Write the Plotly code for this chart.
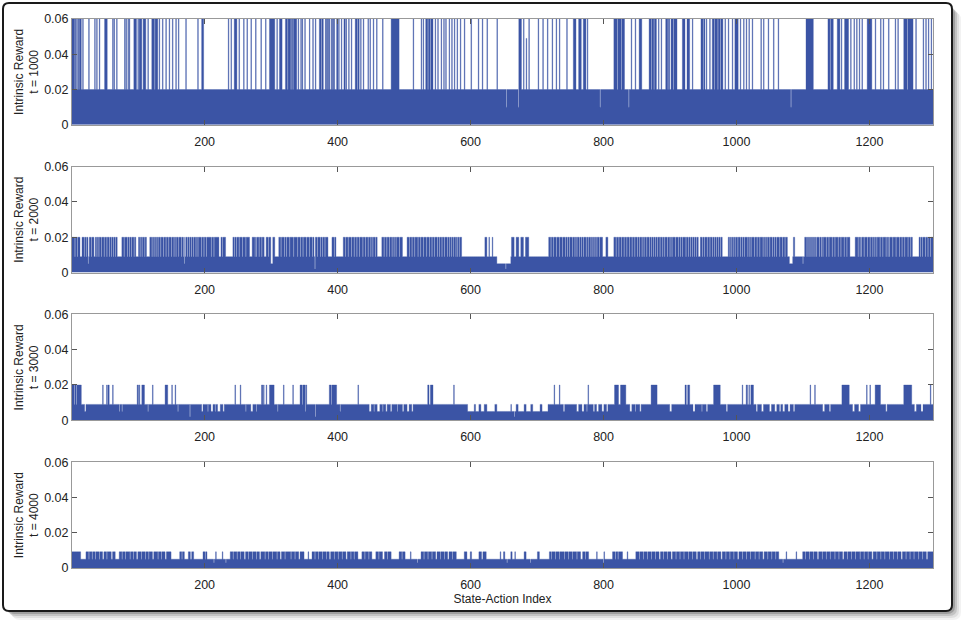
import plotly.graph_objects as go
from plotly.subplots import make_subplots

# ---- data (index ranges are inclusive) ----
n_states = 1295
state_index = list(range(1, n_states + 1))

panel_titles = ["t = 1000", "t = 2000", "t = 3000", "t = 4000"]
x_tickvals = [200, 400, 600, 800, 1000, 1200]
y_tickvals = [0, 0.02, 0.04, 0.06]
y_ticktext = ["0", "0.02", "0.04", "0.06"]

# t = 1000 : base level 0.02, spikes at 0.06
p1_base = 0.02
p1_spike_value = 0.06
p1_spikes = [[1, 4], [6, 6], [8, 8], [10, 10], [12, 14], [17, 17], [26, 26], [35, 35], [38, 38], [42, 42],
             [50, 53], [62, 62], [64, 64], [68, 68], [80, 80], [82, 82], [85, 85], [87, 87], [94, 97],
             [100, 100], [102, 105], [108, 111], [115, 115], [121, 124], [126, 129], [132, 132], [137, 137],
             [142, 142], [147, 147], [152, 152], [157, 157], [161, 161], [172, 172], [190, 190], [196, 198],
             [236, 236], [240, 240], [245, 248], [252, 252], [259, 259], [264, 264], [270, 270], [277, 277],
             [285, 285], [292, 292], [298, 305], [309, 309], [313, 316], [322, 324], [326, 329], [331, 332],
             [334, 338], [341, 341], [345, 345], [347, 347], [351, 351], [358, 358], [363, 363], [367, 367],
             [373, 375], [377, 378], [382, 383], [385, 386], [388, 388], [391, 392], [394, 395], [399, 400],
             [402, 402], [406, 406], [410, 411], [413, 413], [417, 417], [421, 421], [427, 429], [431, 432],
             [435, 435], [439, 439], [446, 446], [449, 449], [454, 454], [459, 459], [468, 468], [481, 492],
             [514, 514], [526, 526], [529, 529], [533, 535], [537, 539], [541, 543], [547, 547], [551, 551],
             [556, 556], [560, 560], [563, 563], [568, 568], [572, 572], [576, 576], [580, 580], [585, 585],
             [591, 591], [601, 601], [612, 612], [618, 618], [625, 625], [640, 640], [673, 676], [680, 680],
             [688, 688], [702, 702], [709, 709], [716, 716], [723, 723], [729, 729], [734, 734], [745, 745],
             [755, 758], [763, 766], [770, 773], [776, 776], [816, 820], [822, 826], [828, 831], [842, 842],
             [848, 848], [854, 857], [869, 871], [873, 875], [877, 879], [883, 883], [887, 887], [894, 896],
             [898, 899], [902, 904], [906, 910], [919, 922], [926, 929], [934, 934], [947, 949], [951, 952],
             [955, 955], [960, 960], [964, 966], [968, 971], [973, 975], [977, 979], [983, 983], [988, 988],
             [994, 994], [998, 1002], [1006, 1006], [1011, 1011], [1015, 1015], [1019, 1019], [1024, 1024],
             [1037, 1037], [1041, 1041], [1048, 1048], [1056, 1056], [1063, 1063], [1105, 1115],
             [1138, 1140], [1142, 1145], [1152, 1155], [1158, 1158], [1163, 1168], [1172, 1172],
             [1177, 1177], [1181, 1181], [1185, 1185], [1189, 1189], [1197, 1203], [1209, 1209],
             [1217, 1217], [1221, 1221], [1229, 1229], [1239, 1239], [1243, 1243], [1252, 1256],
             [1258, 1265], [1270, 1270], [1281, 1281], [1285, 1285], [1289, 1289], [1293, 1293]]
p1_partial_value = 0.049
p1_partial = [[684, 684]]
p1_dip_value = 0.01
p1_dips = [[654, 654], [672, 672], [795, 795], [838, 838], [1082, 1082]]

# t = 2000 : base level 0.02, gaps down to 0.009
p2_base = 0.02
p2_gap_value = 0.009
p2_gaps = [[5, 5], [9, 9], [13, 15], [19, 19], [22, 22], [26, 26], [30, 30], [34, 35], [38, 38], [41, 41],
           [45, 45], [49, 49], [53, 53], [57, 57], [60, 60], [63, 63], [66, 66], [69, 75], [79, 79], [84, 84],
           [87, 87], [90, 90], [94, 94], [97, 100], [103, 103], [106, 106], [110, 110], [113, 117], [121, 121],
           [124, 124], [127, 127], [130, 130], [134, 134], [138, 138], [142, 142], [146, 146], [150, 150],
           [154, 154], [157, 157], [161, 161], [165, 165], [168, 168], [171, 171], [174, 174], [177, 177],
           [180, 180], [183, 183], [187, 187], [190, 190],
           [195, 195], [199, 199], [203, 203], [210, 210], [214, 214], [222, 224], [227, 227], [232, 242],
           [245, 245], [248, 248], [252, 252], [257, 257], [262, 262], [268, 271], [276, 276], [278, 278],
           [282, 282], [286, 286], [290, 292], [296, 296], [300, 300], [306, 311], [315, 315], [320, 320],
           [323, 323], [328, 328], [334, 334], [340, 340], [344, 344], [348, 348], [353, 353], [358, 358],
           [362, 362], [365, 365], [370, 370], [374, 374], [377, 377], [381, 381], [386, 391], [395, 395],
           [398, 408], [412, 412], [416, 416], [421, 421], [425, 425], [429, 429],
           [433, 433], [438, 438], [442, 442], [446, 446], [450, 450], [453, 453], [457, 457], [460, 466],
           [470, 470], [474, 474], [478, 478], [482, 482], [485, 485], [488, 488], [493, 493], [498, 504],
           [508, 508], [512, 512], [516, 516], [521, 521], [525, 525], [529, 529], [534, 534], [538, 538],
           [542, 542], [546, 546], [550, 550], [553, 553], [557, 557], [561, 561], [565, 565], [568, 568],
           [571, 571], [574, 574], [578, 578], [580, 580], [583, 583],
           [587, 621], [625, 627], [629, 632], [634, 641], [643, 661], [666, 668], [673, 675], [680, 682],
           [688, 717],
           [721, 721], [725, 725], [729, 729], [734, 734], [738, 738], [743, 743], [746, 746], [749, 749],
           [753, 753], [757, 757], [760, 760], [764, 764], [767, 767], [770, 770], [774, 774], [777, 777],
           [781, 781], [784, 784], [787, 787], [790, 790], [794, 794], [799, 803], [807, 815], [819, 819],
           [823, 823], [827, 827], [831, 831], [835, 835], [839, 839], [843, 843], [847, 847], [851, 851],
           [854, 854], [858, 858], [861, 861], [865, 865], [869, 869], [872, 872], [875, 875], [878, 878],
           [881, 881], [885, 885], [889, 889], [892, 892], [896, 896], [900, 900], [903, 903], [908, 908],
           [913, 913], [916, 916], [919, 919], [924, 924], [928, 928], [931, 931], [934, 934], [937, 937],
           [940, 940], [943, 945], [949, 949], [952, 952], [956, 956], [960, 960], [964, 964], [967, 967],
           [970, 970], [973, 973], [976, 976], [979, 987], [990, 990], [992, 992], [995, 995], [998, 998],
           [1002, 1002], [1006, 1006], [1009, 1009], [1012, 1012], [1017, 1017], [1020, 1020], [1022, 1022],
           [1027, 1027], [1031, 1031], [1035, 1035], [1040, 1040], [1043, 1043], [1046, 1046], [1050, 1050],
           [1054, 1054], [1057, 1057], [1060, 1060], [1065, 1065], [1069, 1069], [1073, 1073], [1077, 1085],
           [1088, 1102], [1106, 1106], [1109, 1109], [1112, 1112], [1115, 1115], [1118, 1118], [1120, 1120],
           [1125, 1125], [1128, 1128], [1130, 1130], [1135, 1135], [1139, 1139], [1144, 1144], [1148, 1148],
           [1153, 1153], [1157, 1157], [1162, 1162], [1166, 1166], [1171, 1178], [1183, 1183], [1186, 1186],
           [1188, 1188], [1192, 1192], [1197, 1197], [1201, 1201], [1205, 1205], [1208, 1208], [1211, 1211],
           [1216, 1216], [1220, 1220], [1225, 1225], [1228, 1228], [1230, 1230], [1235, 1235], [1240, 1240],
           [1245, 1245], [1249, 1249], [1253, 1253], [1258, 1258], [1262, 1262], [1265, 1274], [1277, 1277],
           [1280, 1280], [1284, 1284], [1288, 1288], [1292, 1292]]
p2_low_value = 0.005
p2_lows = [[25, 25], [170, 170], [300, 302], [640, 652], [654, 660], [1080, 1084], [1100, 1100]]
p2_min_value = 0.002
p2_mins = [[366, 366], [653, 653]]

# t = 3000 : base level 0.009, spikes at 0.02, dips to 0.005
p3_base = 0.009
p3_spike_value = 0.02
p3_spikes = [[1, 3], [5, 6], [8, 14], [47, 47], [53, 53], [55, 56], [62, 62], [99, 100], [102, 102],
             [106, 109], [122, 122], [141, 144], [151, 151], [156, 156], [246, 246], [254, 254], [286, 287],
             [289, 289], [293, 293], [298, 304], [319, 319], [333, 333], [344, 346], [348, 353], [388, 390],
             [392, 398], [431, 431], [536, 537], [540, 543], [575, 575], [726, 726], [734, 734], [777, 777],
             [817, 822], [826, 833], [872, 880], [923, 924], [927, 929], [966, 975], [1009, 1009],
             [1015, 1016], [1019, 1019], [1022, 1025], [1111, 1111], [1118, 1118], [1159, 1169],
             [1196, 1196], [1201, 1201], [1209, 1216], [1252, 1263], [1292, 1292]]
p3_low_value = 0.005
p3_lows = [[20, 21], [72, 72], [76, 76], [115, 115], [160, 160], [196, 197], [205, 205], [210, 212],
           [216, 216], [220, 223], [228, 229], [262, 262], [270, 272], [278, 278], [310, 310], [352, 352],
           [404, 404], [448, 450], [455, 455], [460, 463], [468, 468], [473, 474], [480, 481], [490, 490],
           [498, 499], [505, 507], [512, 513], [596, 605], [608, 612], [616, 620], [625, 636], [640, 660],
           [662, 668], [672, 680], [684, 690], [694, 704], [708, 716], [740, 741], [760, 762], [768, 770],
           [775, 775], [785, 786], [790, 792], [798, 800], [805, 806], [840, 842], [848, 848], [855, 856],
           [900, 902], [935, 937], [948, 948], [955, 956], [985, 986], [1030, 1031], [1038, 1040],
           [1050, 1052], [1058, 1060], [1065, 1066], [1070, 1072], [1078, 1080], [1086, 1087], [1130, 1132],
           [1140, 1141], [1175, 1177], [1184, 1186], [1225, 1226], [1268, 1270], [1278, 1280]]
p3_min_value = 0.002
p3_mins = [[178, 178], [367, 367], [666, 666]]

# t = 4000 : base level 0.009, many dips to 0.005
p4_base = 0.0092
p4_low_value = 0.005
p4_lows = [[14, 21], [26, 26], [31, 31], [36, 36], [42, 42], [47, 48], [53, 53], [60, 61], [66, 71], [76, 76],
           [81, 81], [88, 88], [93, 93], [98, 99], [105, 105], [111, 111], [116, 116], [122, 123], [130, 130],
           [135, 135], [141, 142], [150, 162], [166, 166], [170, 175], [179, 180], [184, 197], [201, 201],
           [204, 238], [243, 243], [249, 249], [254, 254], [260, 261], [266, 266], [272, 272], [278, 278],
           [283, 284], [291, 291], [296, 296], [302, 302], [309, 309], [314, 315], [321, 321], [330, 330],
           [336, 336], [342, 343], [350, 361], [366, 366], [371, 371], [377, 377], [383, 383], [388, 389],
           [395, 395], [401, 401], [407, 407], [413, 414], [420, 420], [425, 425], [431, 436], [441, 441],
           [447, 447], [452, 457], [462, 462], [468, 470], [475, 475], [481, 492], [497, 497], [502, 525],
           [530, 530], [536, 536], [542, 542], [548, 549], [555, 555], [561, 561], [566, 567], [573, 573],
           [579, 590], [595, 612], [617, 618], [624, 644], [646, 660], [663, 680], [684, 700], [704, 718],
           [722, 722], [728, 728], [734, 734], [741, 741], [747, 747], [753, 753], [760, 760], [766, 768],
           [773, 773], [778, 813], [818, 818], [822, 822], [829, 848], [854, 854], [860, 860], [866, 866],
           [872, 872], [878, 878], [884, 885], [890, 890], [896, 896], [902, 903], [909, 909], [915, 915],
           [921, 921], [928, 928], [934, 934], [940, 941], [946, 946], [952, 952], [959, 959], [965, 965],
           [971, 971], [977, 978], [984, 984], [990, 990], [996, 996], [1002, 1003], [1009, 1009],
           [1015, 1015], [1021, 1021], [1028, 1028], [1034, 1034], [1040, 1041], [1047, 1047], [1053, 1053],
           [1059, 1059], [1064, 1099], [1104, 1104], [1110, 1110], [1116, 1116], [1122, 1123], [1129, 1129],
           [1135, 1135], [1141, 1141], [1148, 1148], [1154, 1154], [1160, 1161], [1167, 1167], [1173, 1173],
           [1179, 1179], [1186, 1186], [1192, 1192], [1198, 1198], [1204, 1205], [1211, 1211], [1217, 1217],
           [1223, 1223], [1230, 1230], [1236, 1236], [1242, 1242], [1248, 1249], [1255, 1255], [1261, 1261],
           [1267, 1267], [1274, 1274], [1280, 1280], [1286, 1287]]
p4_peak_value = 0.0092
p4_peaks = [[217, 217], [227, 227], [356, 356], [510, 510], [600, 601], [650, 651], [667, 667], [682, 682],
            [702, 703], [790, 790], [800, 801], [836, 836], [1075, 1075], [1090, 1090]]
p4_min_value = 0.003
p4_mins = [[214, 214], [232, 232], [520, 520], [655, 655], [690, 690], [800, 800], [1070, 1070]]

bar_color = "#3b54a5"


def build_series(base, layers):
    vals = [base] * n_states
    for value, ranges in layers:
        for a, b in ranges:
            for i in range(a, b + 1):
                vals[i - 1] = value
    return vals


series = [
    build_series(p1_base, [(p1_spike_value, p1_spikes), (p1_partial_value, p1_partial), (p1_dip_value, p1_dips)]),
    build_series(p2_base, [(p2_gap_value, p2_gaps), (p2_low_value, p2_lows), (p2_min_value, p2_mins)]),
    build_series(p3_base, [(p3_spike_value, p3_spikes), (p3_low_value, p3_lows), (p3_min_value, p3_mins)]),
    build_series(p4_base, [(p4_low_value, p4_lows), (p4_peak_value, p4_peaks), (p4_min_value, p4_mins)]),
]

fig = make_subplots(rows=4, cols=1, vertical_spacing=0.0765)

# each state-action value drawn as a unit-wide bar: filled step outline (one path, sub-pixel exact)
bar_edges = [i - 0.5 for i in state_index] + [n_states + 0.5]
for k, vals in enumerate(series):
    fig.add_trace(go.Scatter(x=bar_edges, y=vals + [vals[-1]], mode="lines", line_shape="hv",
                             line=dict(width=0.35, color=bar_color), fill="tozeroy", fillcolor=bar_color,
                             showlegend=False, hoverinfo="skip"), row=k + 1, col=1)
    fig.update_yaxes(title_text="Intrinsic Reward<br>" + panel_titles[k], row=k + 1, col=1)

fig.update_xaxes(range=[0.5, n_states + 0.5], tickvals=x_tickvals, ticks="inside", ticklen=5,
                 tickcolor="#555", showline=True, linecolor="#999", linewidth=1, mirror="ticks",
                 showgrid=False, zeroline=False, tickfont=dict(size=12.5, color="#222"),
                 ticklabelstandoff=5)
fig.update_yaxes(range=[0, 0.06], tickvals=y_tickvals, ticktext=y_ticktext, ticks="inside", ticklen=5,
                 tickcolor="#555", showline=True, linecolor="#999", linewidth=1, mirror="ticks",
                 showgrid=False, zeroline=False, tickfont=dict(size=12.5, color="#222"),
                 title_font=dict(size=12, color="#222"), title_standoff=2)
fig.update_xaxes(title_text="State-Action Index", title_font=dict(size=12, color="#222"),
                 title_standoff=2, row=4, col=1)

# framed-figure look: soft shadow + black rounded border (positions in pixels -> paper)
L, R, T, B = 72, 31, 19, 56
W, H = 964, 624
pw, ph = W - L - R, H - T - B


def px(x):
    return (x - L) / pw


def py(y):
    return (H - B - y) / ph


def rounded(x0, y0, x1, y1, r):
    rx, ry = r / pw, r / ph
    a, b, c, d = px(x0), py(y1), px(x1), py(y0)
    return (f"M {a + rx},{b} L {c - rx},{b} Q {c},{b} {c},{b + ry} L {c},{d - ry} Q {c},{d} {c - rx},{d} "
            f"L {a + rx},{d} Q {a},{d} {a},{d - ry} L {a},{b + ry} Q {a},{b} {a + rx},{b} Z")


shapes = []
for off, op in [(9, 0.05), (7, 0.08), (5, 0.12), (3, 0.18)]:
    shapes.append(dict(type="path", xref="paper", yref="paper", layer="below",
                       path=rounded(3 + off, 3 + off, 952 + off, 611 + off, 8),
                       fillcolor=f"rgba(0,0,0,{op})", line=dict(width=0)))
shapes.append(dict(type="path", xref="paper", yref="paper", layer="below",
                   path=rounded(3, 3, 952, 611, 6), fillcolor="white", line=dict(color="#1a1a1a", width=2)))

fig.update_layout(width=W, height=H, margin=dict(l=L, r=R, t=T, b=B),
                  paper_bgcolor="white", plot_bgcolor="rgba(0,0,0,0)",
                  font=dict(family="Liberation Sans, Arial, sans-serif", color="#222"),
                  shapes=shapes)

# page body has a default 8px margin; drop it so the figure sits at the window origin
fig.write_html("out.html", config={"displayModeBar": False},
               post_script="document.body.style.margin='0';")
